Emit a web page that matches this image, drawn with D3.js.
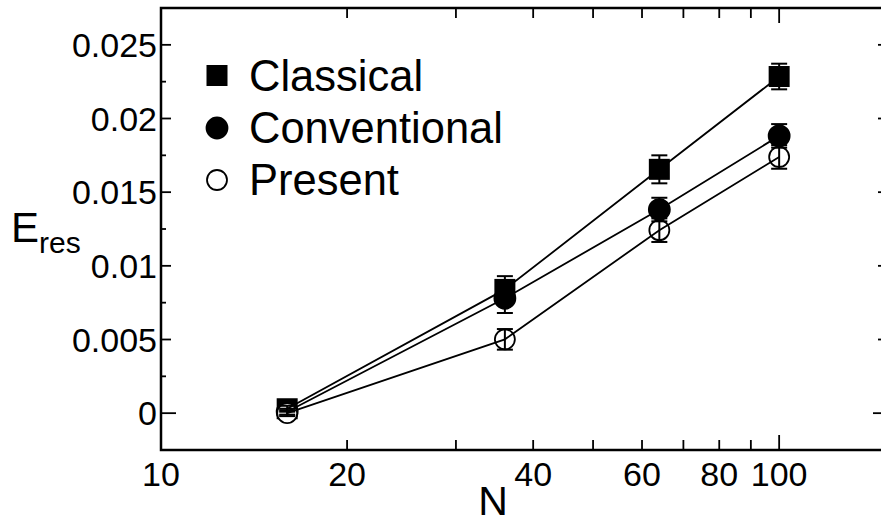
<!DOCTYPE html>
<html><head><meta charset="utf-8">
<script src="https://cdn.jsdelivr.net/npm/d3@7"></script>
<style>
html,body{margin:0;padding:0;background:#fff;}
svg{display:block;font-family:"Liberation Sans",Arial,sans-serif;}
</style></head>
<body>
<svg id="chart" width="881" height="523"></svg>
<script>
const N = [16, 36, 64, 100];
const classical = [0.0003, 0.0084, 0.01655, 0.02285];
const classicalErr = [0.0002, 0.0009, 0.00095, 0.00087];
const conventional = [0.0001, 0.0078, 0.01382, 0.01882];
const conventionalErr = [0.0002, 0.001, 0.0008, 0.0008];
const present = [0.0, 0.00501, 0.01242, 0.01739];
const presentErr = [0.0002, 0.0007, 0.0008, 0.0008];
const seriesNames = ["Classical", "Conventional", "Present"];
const xTickLabels = [10, 20, 40, 60, 80, 100];
const xMinorTicks = [30, 50, 70, 90];
const yTickLabels = ["0", "0.005", "0.01", "0.015", "0.02", "0.025"];
const yTicks = [0, 0.005, 0.01, 0.015, 0.02, 0.025];
const yMinorTicks = [-0.0025, 0.0025, 0.0075, 0.0125, 0.0175, 0.0225];

const svg = d3.select("#chart");
const L = 161, R = 888, T = 8, B = 450;
const x = d3.scaleLog().domain([10, 150]).range([L, R]);
const y = d3.scaleLinear().domain([-0.0025, 0.0275]).range([B, T]);

const series = [
  {name: seriesNames[0], vals: classical, err: classicalErr, shape: "square", fill: "#000"},
  {name: seriesNames[1], vals: conventional, err: conventionalErr, shape: "circle", fill: "#000"},
  {name: seriesNames[2], vals: present, err: presentErr, shape: "circle", fill: "#fff"}
];

function marker(g, shape, fill, cx, cy) {
  if (shape === "square") {
    g.append("rect").attr("x", cx - 10.5).attr("y", cy - 10.5).attr("width", 21).attr("height", 21)
      .attr("fill", "#000");
  } else {
    g.append("circle").attr("cx", cx).attr("cy", cy).attr("r", fill === "#000" ? 10.5 : 10)
      .attr("fill", fill).attr("stroke", "#000").attr("stroke-width", 1.8);
  }
}

const gm = svg.append("g");
series.forEach(s => {
  s.vals.forEach((v, i) => marker(gm, s.shape, s.fill, x(N[i]), y(v)));
});
// lines
const line = d3.line().x((d, i) => x(N[i])).y(d => y(d));
series.forEach(s => {
  svg.append("path").attr("d", line(s.vals)).attr("fill", "none")
    .attr("stroke", "#000").attr("stroke-width", 1.8);
});
// error bars
series.forEach(s => {
  s.vals.forEach((v, i) => {
    const cx = x(N[i]);
    const y1 = y(v + s.err[i]), y2 = y(v - s.err[i]);
    const g = svg.append("g").attr("stroke", "#000").attr("stroke-width", 2);
    g.append("line").attr("x1", cx).attr("x2", cx).attr("y1", y1).attr("y2", y2);
    g.append("line").attr("x1", cx - 8).attr("x2", cx + 8).attr("y1", y1).attr("y2", y1);
    g.append("line").attr("x1", cx - 8).attr("x2", cx + 8).attr("y1", y2).attr("y2", y2);
  });
});

// frame
svg.append("rect").attr("x", L).attr("y", T).attr("width", R - L).attr("height", B - T)
  .attr("fill", "none").attr("stroke", "#000").attr("stroke-width", 2.5);

// ticks (inward, mirrored)
const tk = svg.append("g").attr("stroke", "#000").attr("stroke-width", 1.8);
const xAll = xTickLabels.concat(xMinorTicks);
xAll.forEach(v => {
  const len = (v === 10 || v === 100) ? 15 : 10;
  tk.append("line").attr("x1", x(v)).attr("x2", x(v)).attr("y1", B).attr("y2", B - len);
  tk.append("line").attr("x1", x(v)).attr("x2", x(v)).attr("y1", T).attr("y2", T + len);
});
yTicks.forEach(v => {
  const len = v === 0 ? 15 : 10;
  tk.append("line").attr("x1", L).attr("x2", L + len).attr("y1", y(v)).attr("y2", y(v));
  tk.append("line").attr("x1", R).attr("x2", R - len).attr("y1", y(v)).attr("y2", y(v));
});
yMinorTicks.forEach(v => {
  tk.append("line").attr("x1", L).attr("x2", L + 5).attr("y1", y(v)).attr("y2", y(v));
  tk.append("line").attr("x1", R).attr("x2", R - 5).attr("y1", y(v)).attr("y2", y(v));
});

// tick labels
xTickLabels.forEach(v => {
  svg.append("text").attr("x", x(v)).attr("y", 486).attr("text-anchor", "middle")
    .attr("font-size", 34).text(String(v));
});
yTicks.forEach((v, i) => {
  svg.append("text").attr("x", 157).attr("y", y(v) + 12).attr("text-anchor", "end")
    .attr("font-size", 34).text(yTickLabels[i]);
});

// axis titles
const yl = svg.append("text").attr("x", 11).attr("y", 242).attr("font-size", 42);
yl.append("tspan").text("E");
yl.append("tspan").attr("font-size", 30).attr("dy", 11).text("res");
svg.append("text").attr("x", 493).attr("y", 515).attr("text-anchor", "middle")
  .attr("font-size", 41).text("N");

// legend
const legY = [75.5, 128, 180];
series.forEach((s, i) => {
  marker(svg, s.shape, s.fill, 217, legY[i]);
  svg.append("text").attr("x", 249).attr("y", legY[i] + 15).attr("font-size", 43.5).text(s.name);
});
</script>
</body></html>
